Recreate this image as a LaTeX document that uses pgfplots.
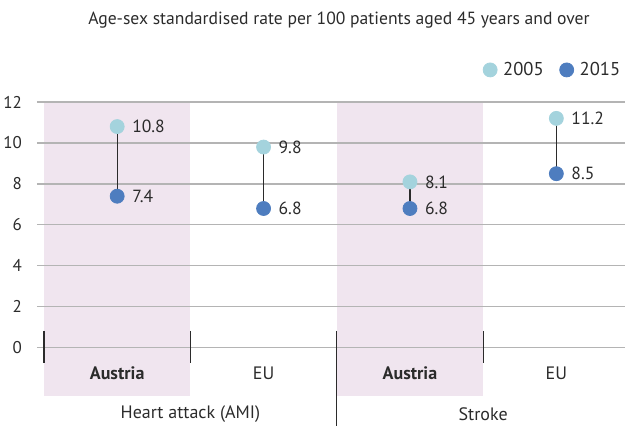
\documentclass[border=0pt]{standalone}
\usepackage{pgfplots}
\pgfplotsset{compat=1.18}
\usepackage{fontspec}
\setmainfont{PT Sans}
\definecolor{lightb}{HTML}{A4D3DD}
\definecolor{darkb}{HTML}{4E7DBF}
\definecolor{shadec}{HTML}{F0E5EF}
\definecolor{gridc}{HTML}{B4B4B4}
\definecolor{txt}{HTML}{2B2B2B}
\begin{document}
\begin{tikzpicture}
\begin{axis}[
  set layers,
  scale only axis, width=294pt, height=162pt,
  xmin=-0.548, xmax=3.469, ymin=-3.82, ymax=12,
  axis line style={draw=none},
  xtick=\empty,
  ytick={0,2,...,12},
  ymajorgrids, grid style={gridc, line width=0.6pt},
  major tick length=0pt,
  yticklabel style={font=\fontsize{8.5}{10}\selectfont, text=txt, anchor=east, xshift=-4pt},
  /pgf/number format/assume math mode=true,
  clip=false,
  legend style={at={(1.013,1.099)}, anchor=east, draw=none, fill=none,
    legend columns=2, font=\fontsize{9.3}{11}\selectfont, text=txt,
    /tikz/every even column/.append style={column sep=5pt},
    nodes={inner xsep=3pt}},
  legend cell align=left,
]
\begin{pgfonlayer}{axis background}
\fill[shadec] (axis cs:-0.5,12) rectangle (axis cs:0.5,-2.36);
\fill[shadec] (axis cs:1.5,12) rectangle (axis cs:2.5,-2.36);
\end{pgfonlayer}
\addplot[txt, line width=0.6pt, forget plot] coordinates {(0,10.8) (0,7.4)};
\addplot[txt, line width=0.6pt, forget plot] coordinates {(1,9.8) (1,6.8)};
\addplot[txt, line width=0.6pt, forget plot] coordinates {(2,8.1) (2,6.8)};
\addplot[txt, line width=0.6pt, forget plot] coordinates {(3,11.2) (3,8.5)};
\addplot[only marks, mark=*, mark size=3.5pt, color=lightb,
  nodes near coords, point meta=explicit symbolic,
  nodes near coords style={anchor=west, xshift=4pt, font=\fontsize{8.8}{10}\selectfont, text=txt}]
  table[meta=lab] {
x y lab
0 10.8 10.8
1 9.8 9.8
2 8.1 8.1
3 11.2 11.2
};
\addplot[only marks, mark=*, mark size=3.5pt, color=darkb,
  nodes near coords, point meta=explicit symbolic,
  nodes near coords style={anchor=west, xshift=4pt, font=\fontsize{8.8}{10}\selectfont, text=txt}]
  table[meta=lab] {
x y lab
0 7.4 7.4
1 6.8 6.8
2 6.8 6.8
3 8.5 8.5
};
\legend{2005,2015}
\draw[txt, line width=0.6pt] (axis cs:-0.5,0.82) -- (axis cs:-0.5,-0.75);
\draw[txt, line width=0.6pt] (axis cs:0.5,0.82) -- (axis cs:0.5,-0.75);
\draw[txt, line width=0.6pt] (axis cs:2.5,0.82) -- (axis cs:2.5,-0.75);
\draw[txt, line width=0.6pt] (axis cs:1.5,0.82) -- (axis cs:1.5,-3.82);
\node[font=\fontsize{9}{11}\selectfont\bfseries, text=txt] at (axis cs:0,-1.235) {Austria};
\node[font=\fontsize{9}{11}\selectfont, text=txt] at (axis cs:1,-1.235) {EU};
\node[font=\fontsize{9}{11}\selectfont\bfseries, text=txt] at (axis cs:2,-1.235) {Austria};
\node[font=\fontsize{9}{11}\selectfont, text=txt] at (axis cs:3,-1.235) {EU};
\node[font=\fontsize{9}{11}\selectfont, text=txt] at (axis cs:0.5,-3.24) {Heart attack (AMI)};
\node[font=\fontsize{9}{11}\selectfont, text=txt] at (axis cs:2.5,-3.24) {Stroke};
\node[font=\fontsize{8.8}{10}\selectfont, text=txt] at (axis cs:1.515,16.0) {Age-sex standardised rate per 100 patients aged 45 years and over};
\coordinate (TL) at (axis cs:-0.8005,16.98);
\coordinate (BR) at (axis cs:3.469,-3.82);
\end{axis}
\pgfresetboundingbox
\useasboundingbox (TL) rectangle (BR);
\end{tikzpicture}
\end{document}
